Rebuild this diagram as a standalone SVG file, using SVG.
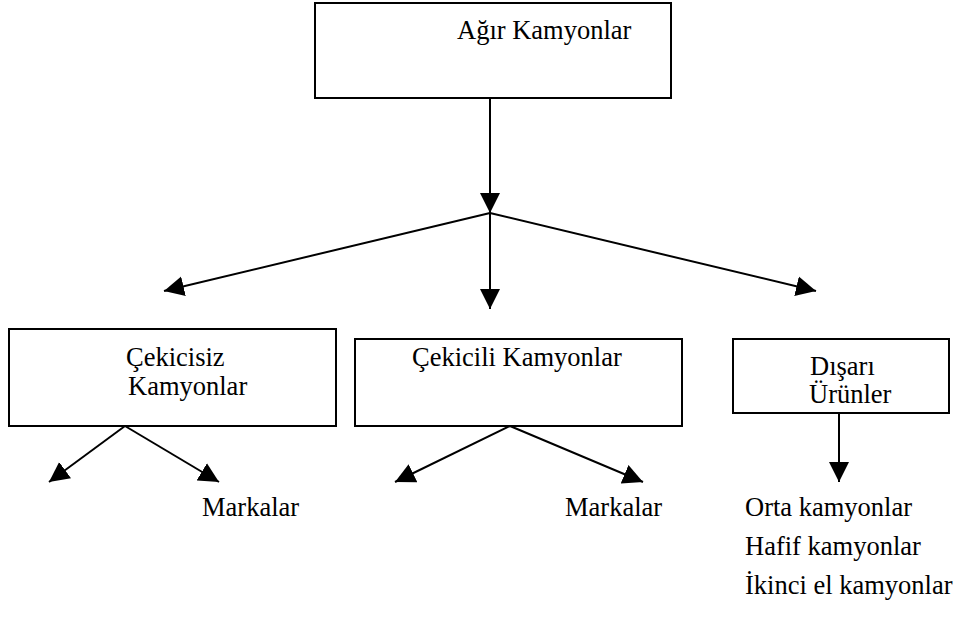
<svg xmlns="http://www.w3.org/2000/svg" width="957" height="618" viewBox="0 0 957 618">
<style>
.box{fill:#fff;stroke:#000;stroke-width:2}
.t{font-family:"Liberation Serif","Times New Roman",serif;font-size:26.5px;fill:#000}
.c line{stroke:#000;stroke-width:2;marker-end:url(#ah)}
</style>
<defs>
<marker id="ah" viewBox="0 0 20 20" refX="20" refY="10" markerWidth="20" markerHeight="21" markerUnits="userSpaceOnUse" orient="auto">
<path d="M0,0 L20,10 L0,20 z" fill="#000"/>
</marker>
</defs>
<rect width="957" height="618" fill="#fff"/>
<g id="agir">
<rect class="box" x="315" y="3" width="356" height="95"/>
<text class="t" x="457" y="39">Ağır Kamyonlar</text>
</g>
<g id="cekicisiz">
<rect class="box" x="9" y="329" width="327" height="97"/>
<text class="t" x="126" y="366">Çekicisiz</text>
<text class="t" x="128" y="395">Kamyonlar</text>
</g>
<g id="cekicili">
<rect class="box" x="355" y="339" width="327" height="87"/>
<text class="t" x="412" y="366">Çekicili Kamyonlar</text>
</g>
<g id="disari">
<rect class="box" x="733" y="339" width="216" height="74"/>
<text class="t" x="810" y="375">Dışarı</text>
<text class="t" x="809" y="403">Ürünler</text>
</g>
<g id="markalar1"><text class="t" x="202" y="516">Markalar</text></g>
<g id="markalar2"><text class="t" x="565" y="516">Markalar</text></g>
<g id="urunler-list">
<text class="t" x="745" y="516">Orta kamyonlar</text>
<text class="t" x="745" y="555">Hafif kamyonlar</text>
<text class="t" x="745" y="594">İkinci el kamyonlar</text>
</g>
<g id="connectors" class="c">
<line x1="490" y1="98" x2="490" y2="213"/>
<line x1="490" y1="213" x2="164" y2="291"/>
<line x1="490" y1="213" x2="490" y2="309"/>
<line x1="490" y1="213" x2="816" y2="291"/>
<line x1="125" y1="426" x2="49" y2="482"/>
<line x1="125" y1="426" x2="219" y2="482"/>
<line x1="510" y1="426" x2="395" y2="482"/>
<line x1="510" y1="426" x2="643" y2="482"/>
<line x1="839" y1="413" x2="839" y2="482"/>
</g>
</svg>
